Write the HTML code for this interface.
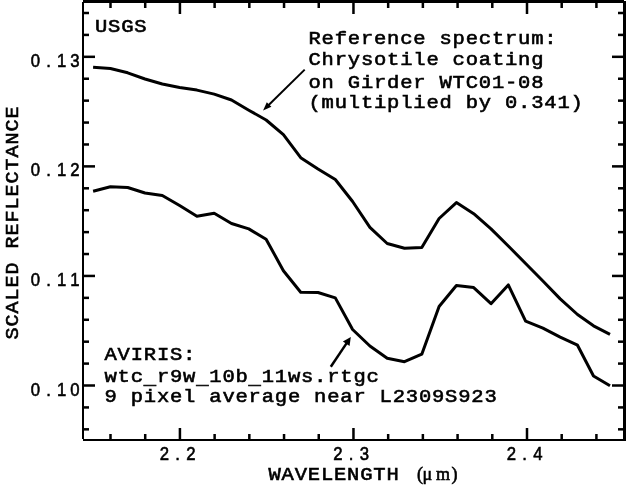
<!DOCTYPE html>
<html><head><meta charset="utf-8"><style>
html,body{margin:0;padding:0;background:#fff;width:626px;height:486px;overflow:hidden}
svg{display:block;filter:grayscale(1)}
text{fill:#000;stroke:#000;stroke-width:0.6px}
</style></head><body>
<svg width="626" height="486" viewBox="0 0 626 486">
<rect width="626" height="486" fill="#fff"/>
<rect x="83" y="0" width="541" height="3"/>
<rect x="623" y="1" width="3" height="440"/>
<rect x="82" y="2" width="2" height="437"/>
<rect x="83" y="439" width="541" height="2"/>
<rect x="84" y="428.08" width="5" height="2.5"/>
<rect x="618" y="428.08" width="5" height="2.5"/>
<rect x="84" y="406.17" width="5" height="2.5"/>
<rect x="618" y="406.17" width="5" height="2.5"/>
<rect x="84" y="384.25" width="11" height="2.5"/>
<rect x="612" y="384.25" width="11" height="2.5"/>
<rect x="84" y="362.34" width="5" height="2.5"/>
<rect x="618" y="362.34" width="5" height="2.5"/>
<rect x="84" y="340.43" width="5" height="2.5"/>
<rect x="618" y="340.43" width="5" height="2.5"/>
<rect x="84" y="318.52" width="5" height="2.5"/>
<rect x="618" y="318.52" width="5" height="2.5"/>
<rect x="84" y="296.61" width="5" height="2.5"/>
<rect x="618" y="296.61" width="5" height="2.5"/>
<rect x="84" y="274.69" width="11" height="2.5"/>
<rect x="612" y="274.69" width="11" height="2.5"/>
<rect x="84" y="252.78" width="5" height="2.5"/>
<rect x="618" y="252.78" width="5" height="2.5"/>
<rect x="84" y="230.87" width="5" height="2.5"/>
<rect x="618" y="230.87" width="5" height="2.5"/>
<rect x="84" y="208.96" width="5" height="2.5"/>
<rect x="618" y="208.96" width="5" height="2.5"/>
<rect x="84" y="187.05" width="5" height="2.5"/>
<rect x="618" y="187.05" width="5" height="2.5"/>
<rect x="84" y="165.13" width="11" height="2.5"/>
<rect x="612" y="165.13" width="11" height="2.5"/>
<rect x="84" y="143.22" width="5" height="2.5"/>
<rect x="618" y="143.22" width="5" height="2.5"/>
<rect x="84" y="121.31" width="5" height="2.5"/>
<rect x="618" y="121.31" width="5" height="2.5"/>
<rect x="84" y="99.40" width="5" height="2.5"/>
<rect x="618" y="99.40" width="5" height="2.5"/>
<rect x="84" y="77.49" width="5" height="2.5"/>
<rect x="618" y="77.49" width="5" height="2.5"/>
<rect x="84" y="55.57" width="11" height="2.5"/>
<rect x="612" y="55.57" width="11" height="2.5"/>
<rect x="84" y="33.66" width="5" height="2.5"/>
<rect x="618" y="33.66" width="5" height="2.5"/>
<rect x="84" y="11.75" width="5" height="2.5"/>
<rect x="618" y="11.75" width="5" height="2.5"/>
<rect x="109.25" y="3" width="2.5" height="5"/>
<rect x="109.25" y="434" width="2.5" height="5"/>
<rect x="143.96" y="3" width="2.5" height="5"/>
<rect x="143.96" y="434" width="2.5" height="5"/>
<rect x="178.67" y="3" width="2.5" height="11"/>
<rect x="178.67" y="428" width="2.5" height="11"/>
<rect x="213.37" y="3" width="2.5" height="5"/>
<rect x="213.37" y="434" width="2.5" height="5"/>
<rect x="248.08" y="3" width="2.5" height="5"/>
<rect x="248.08" y="434" width="2.5" height="5"/>
<rect x="282.79" y="3" width="2.5" height="5"/>
<rect x="282.79" y="434" width="2.5" height="5"/>
<rect x="317.50" y="3" width="2.5" height="5"/>
<rect x="317.50" y="434" width="2.5" height="5"/>
<rect x="352.21" y="3" width="2.5" height="11"/>
<rect x="352.21" y="428" width="2.5" height="11"/>
<rect x="386.91" y="3" width="2.5" height="5"/>
<rect x="386.91" y="434" width="2.5" height="5"/>
<rect x="421.62" y="3" width="2.5" height="5"/>
<rect x="421.62" y="434" width="2.5" height="5"/>
<rect x="456.33" y="3" width="2.5" height="5"/>
<rect x="456.33" y="434" width="2.5" height="5"/>
<rect x="491.04" y="3" width="2.5" height="5"/>
<rect x="491.04" y="434" width="2.5" height="5"/>
<rect x="525.75" y="3" width="2.5" height="11"/>
<rect x="525.75" y="428" width="2.5" height="11"/>
<rect x="560.45" y="3" width="2.5" height="5"/>
<rect x="560.45" y="434" width="2.5" height="5"/>
<rect x="595.16" y="3" width="2.5" height="5"/>
<rect x="595.16" y="434" width="2.5" height="5"/>
<polyline points="93.1,67.3 110.4,68.5 127.7,72.8 145.0,79.0 162.3,84.0 179.6,87.5 196.9,90.1 214.2,94.1 231.5,100.0 248.8,110.2 266.1,120.0 283.4,134.7 300.7,157.7 318.0,169.0 335.3,179.5 352.6,201.5 369.9,227.4 387.2,243.5 404.5,248.3 421.8,247.6 439.1,218.5 456.4,202.6 473.7,213.7 491.0,228.9 508.3,246.0 525.6,263.5 542.9,281.0 560.2,298.9 577.5,314.5 593.5,325.8 610.0,334.3" fill="none" stroke="#000" stroke-width="3.0" stroke-linejoin="round" stroke-linecap="butt"/>
<polyline points="93.1,191.2 110.4,186.8 127.7,187.5 145.0,193.0 162.3,195.5 179.6,205.5 196.9,216.2 214.2,213.2 231.5,223.5 248.8,228.9 266.1,239.2 283.4,270.7 300.7,292.2 318.0,292.5 335.3,297.9 352.6,329.5 369.9,346.0 387.2,358.3 404.5,361.7 421.8,354.2 439.1,306.5 456.4,285.5 473.7,287.6 491.0,303.7 508.3,284.9 525.6,321.2 542.9,328.2 560.2,337.2 577.5,345.2 593.5,376.0 610.0,385.8" fill="none" stroke="#000" stroke-width="3.0" stroke-linejoin="round" stroke-linecap="butt"/>
<line x1="304.7" y1="69.6" x2="267.67" y2="105.92" stroke="#000" stroke-width="2.0"/>
<polygon points="263.1,110.4 266.79,102.16 271.41,106.87"/>
<line x1="330.8" y1="366.7" x2="347.34" y2="342.14" stroke="#000" stroke-width="2.5"/>
<polygon points="350.8,337.0 349.54,346.04 342.90,341.57"/>
<text transform="translate(95,32.3) scale(1.0800,1)" x="0.00 12.13 24.26 36.39" y="0" style="font-family:'Liberation Mono';font-size:19.0px">USGS</text>
<text transform="translate(308.5,43.8) scale(1.0800,1)" x="0.00 12.13 24.26 36.39 48.52 60.65 72.78 84.91 97.04 121.30 133.43 145.56 157.69 169.81 181.94 194.07 206.20 218.33" y="0" style="font-family:'Liberation Mono';font-size:19.0px">Referencespectrum:</text>
<text transform="translate(308.5,65.2) scale(1.0800,1)" x="0.00 12.13 24.26 36.39 48.52 60.65 72.78 84.91 97.04 109.17 133.43 145.56 157.69 169.81 181.94 194.07 206.20" y="0" style="font-family:'Liberation Mono';font-size:19.0px">Chrysotilecoating</text>
<text transform="translate(308.5,87.8) scale(1.0800,1)" x="0.00 12.13 36.39 48.52 60.65 72.78 84.91 97.04 121.30 133.43 145.56 157.69 169.81 181.94 194.07 206.20" y="0" style="font-family:'Liberation Mono';font-size:19.0px">onGirderWTC01-08</text>
<text transform="translate(308.5,108.1) scale(1.0800,1)" x="0.00 12.13 24.26 36.39 48.52 60.65 72.78 84.91 97.04 109.17 121.30 145.56 157.69 181.94 194.07 206.20 218.33 230.46 242.59" y="0" style="font-family:'Liberation Mono';font-size:19.0px">(multipliedby0.341)</text>
<text transform="translate(104.5,359.8) scale(1.0800,1)" x="0.00 12.13 24.26 36.39 48.52 60.65 72.78" y="0" style="font-family:'Liberation Mono';font-size:19.0px">AVIRIS:</text>
<text transform="translate(104.5,383.6) scale(1.0800,1)" x="36.39 84.91 133.43" y="0" style="font-family:'Liberation Mono';font-size:19.0px">___</text>
<text transform="translate(104.5,381.8) scale(1.0800,1)" x="0.00 12.13 24.26 48.52 60.65 72.78 97.04 109.17 121.30 145.56 157.69 169.81 181.94 194.07 206.20 218.33 230.46 242.59" y="0" style="font-family:'Liberation Mono';font-size:19.0px">wtcr9w10b11ws.rtgc</text>
<text transform="translate(104.5,402.2) scale(1.0800,1)" x="0.00 24.26 36.39 48.52 60.65 72.78 97.04 109.17 121.30 133.43 145.56 157.69 169.81 194.07 206.20 218.33 230.46 254.72 266.85 278.98 291.11 303.24 315.37 327.50 339.63 351.76" y="0" style="font-family:'Liberation Mono';font-size:19.0px">9pixelaveragenearL2309S923</text>
<text transform="translate(35.3,66.82400000000004) scale(0.8800,1)" x="0.00 15.00 30.00 45.00" y="0" text-anchor="middle" style="font-family:'Liberation Sans';font-size:19px">0.13</text>
<text transform="translate(35.3,176.38400000000013) scale(0.8800,1)" x="0.00 15.00 30.00 45.00" y="0" text-anchor="middle" style="font-family:'Liberation Sans';font-size:19px">0.12</text>
<text transform="translate(35.3,285.9440000000001) scale(0.8800,1)" x="0.00 15.00 30.00 45.00" y="0" text-anchor="middle" style="font-family:'Liberation Sans';font-size:19px">0.11</text>
<text transform="translate(35.3,395.504) scale(0.8800,1)" x="0.00 15.00 30.00 45.00" y="0" text-anchor="middle" style="font-family:'Liberation Sans';font-size:19px">0.10</text>
<text transform="translate(164.41600000000005,460.2) scale(0.8800,1)" x="0.00 15.00 30.00" y="0" text-anchor="middle" style="font-family:'Liberation Sans';font-size:19px">2.2</text>
<text transform="translate(337.95599999999945,460.2) scale(0.8800,1)" x="0.00 15.00 30.00" y="0" text-anchor="middle" style="font-family:'Liberation Sans';font-size:19px">2.3</text>
<text transform="translate(511.49599999999964,460.2) scale(0.8800,1)" x="0.00 15.00 30.00" y="0" text-anchor="middle" style="font-family:'Liberation Sans';font-size:19px">2.4</text>
<text transform="translate(268.5,480) scale(1.0800,1)" x="0.00 12.13 24.26 36.39 48.52 60.65 72.78 84.91 97.04 109.17" y="0" style="font-family:'Liberation Mono';font-size:19.0px">WAVELENGTH</text>
<text transform="translate(0,480)" x="417.00 422.50 436.00 451.50" y="0" style="font-family:'Liberation Serif';font-size:18px">(μm)</text>
<text transform="translate(17.9,339.6) rotate(-90) scale(1.0800,1)" x="0.00 12.04 24.07 36.11 48.15 60.19 84.26 96.30 108.33 120.37 132.41 144.44 156.48 168.52 180.56 192.59 204.63" y="0" style="font-family:'Liberation Mono';font-size:18.6px">SCALEDREFLECTANCE</text>
</svg></body></html>
